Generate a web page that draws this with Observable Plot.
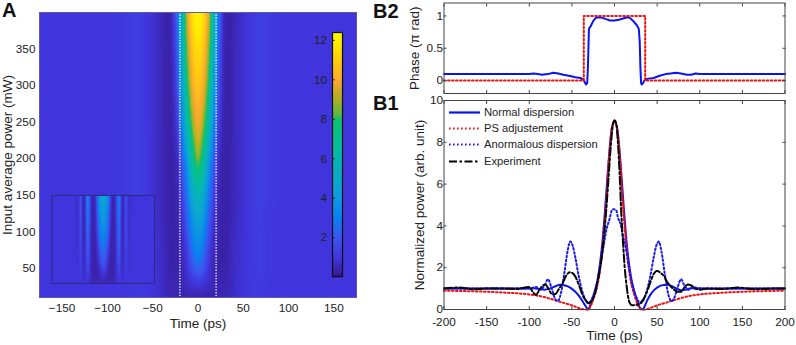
<!DOCTYPE html>
<html><head><meta charset="utf-8">
<script src="https://cdn.jsdelivr.net/npm/d3@7"></script>
<script src="https://cdn.jsdelivr.net/npm/@observablehq/plot@0.6"></script>
<style>
html,body{margin:0;padding:0;background:#fff}
#page{position:relative;width:796px;height:345px;overflow:hidden;font-family:"Liberation Sans",Arial,sans-serif;color:#222}
#page svg.plot{position:absolute;left:0;top:0}
.letter{position:absolute;font-weight:bold;font-size:20px;line-height:20px;color:#111}
.leg{position:absolute;left:449px;font-size:11.2px;line-height:12px;height:12px;white-space:nowrap;color:#222}
.leg svg{position:absolute;left:0;top:5px}
.leg span{position:absolute;left:35px;top:0}
</style></head><body><div id="page"></div>
<script>
// ---- Panel A heat map (mirrored half profile)
const heatHalfTimes=[0,4,8,11,13,15,17,20,23,27,31,36,42,50,60,68,80,100,130,175];
const heatPowers=[10,30,50,75,100,150,180,190,200,225,250,275,300,350,400];
const heatRows=[
[.35,.35,.35,.35,.35,.38,.4,.45,.5,.5,.5,.6,.8,.95,1.1,1.1,1,1,1,1],
[1.1,1.05,.95,.8,.7,.6,.55,.5,.45,.4,.4,.5,.8,.95,1.1,1.15,1,1,1,1],
[2.3,2.1,1.6,1.1,.85,.65,.5,.4,.35,.3,.35,.55,.75,.95,1.15,1.2,1.05,1,1,1],
[3.4,3.1,2.2,1.5,1.1,.8,.6,.45,.35,.3,.3,.5,.75,.9,1.15,1.2,1.05,1,1,1],
[4.1,3.8,2.9,2.1,1.6,1.1,.8,.55,.4,.3,.3,.45,.7,.9,1.15,1.25,1.05,1,1,1],
[5.8,5.3,4.3,3.2,2.5,1.9,1.4,.85,.5,.3,.3,.4,.6,.85,1.15,1.3,1.1,1,1,1],
[7.6,6.9,5.3,4.0,3.2,2.5,1.9,1.1,.6,.3,.3,.4,.6,.85,1.15,1.3,1.1,1,1,1],
[8.15,7.3,5.6,4.3,3.4,2.7,2.0,1.2,.6,.3,.3,.4,.6,.85,1.15,1.3,1.1,1,1,1],
[8.7,7.8,6.1,4.7,3.8,3.0,2.3,1.4,.7,.3,.3,.4,.6,.85,1.15,1.3,1.1,1,1,1],
[9.5,8.6,7.2,5.8,4.8,3.9,3.0,1.8,.9,.4,.3,.38,.6,.85,1.15,1.3,1.1,1,1,1],
[10,9.5,8.0,6.7,5.7,4.7,3.7,2.3,1.2,.5,.3,.35,.6,.85,1.1,1.3,1.1,1,1,1],
[10.4,10,8.8,7.3,6.3,5.2,4.1,2.7,1.4,.55,.3,.35,.6,.85,1.1,1.3,1.1,1,1,1],
[10.8,10.5,9.4,8.1,7,5.8,4.6,3.1,1.7,.6,.3,.35,.6,.85,1.1,1.3,1.1,1,1,1],
[11.6,11.3,10.3,9.1,8.15,6.8,5.4,3.8,2.1,.8,.3,.35,.6,.85,1.1,1.3,1.1,1,1,1],
[12.3,12,11.1,10,8.9,7.2,5.9,4.3,2.6,1,.3,.3,.55,.85,1.1,1.3,1.1,1,1,1]
];
// ---- Inset heat map
const insetHalfTimes=[0,8,14,20,24,28,32,36,42,47,53,59,64,68,73,78,83,90,100,175];
const insetPowers=[10,40,90,150,220,300,400];
const insetRows=[
[.5,.5,.5,.5,.5,.5,.5,.5,.7,.8,.9,.95,.95,1,1,1,1,1,1,1],
[.8,.7,.5,.4,.35,.35,.35,.4,.6,.9,1.3,1,.8,.85,1,1.1,1,1,1,1],
[1.8,1.4,.8,.5,.35,.3,.3,.4,.6,1,1.8,1.1,.7,.7,1,1.3,1,.9,1,1],
[2.6,2.2,1.5,.8,.5,.3,.3,.4,.6,1.2,2.3,1.2,.6,.6,1,1.5,1,.85,1,1],
[3.3,3,2.3,1.3,.7,.4,.3,.4,.6,1.4,2.7,1.3,.5,.5,1,1.7,.9,.8,1,1],
[4.1,3.7,3,2,1,.5,.3,.4,.7,1.6,3.2,1.5,.5,.5,1,1.9,.9,.8,1,1],
[5,4.6,3.9,2.8,1.5,.6,.3,.45,.8,1.9,3.8,1.8,.5,.4,1,2.1,.9,.7,1,1]
];
// ---- Colour map
const cmapStops=[0,0.3,1,2,3,4,5,6,7,8.05,8.15,9,10,11,12,12.4];
const cmapColors=["#38168f","#3a22a8","#4035dc","#3a58f0","#0a80f0","#0e98e0","#0aabc8","#05b8b0","#05c090","#10c070","#50b848","#b0b420","#fca830","#ffcc10","#fff000","#fff800"];
// ---- Panel B2 phase
const phaseNormalT=[-200,-150,-110,-100,-95,-90,-85,-78,-72,-66,-60,-52,-46,-40,-37,-35,-33.5,-32,-31.2,-30.6,-30,-28,-25,-22,-18,-14,-10,-5,0,5,10,15,18,22,26,28.5,29.6,30.4,31.2,32,33.5,35,37,40,46,52,60,66,72,78,85,90,95,100,110,150,200];
const phaseNormalV=[.1,.1,.1,.1,.11,.1,.09,.1,.12,.11,.09,.07,.05,.04,.02,-.02,-.06,-.04,.2,.5,.8,.84,.92,.97,.98,.97,.95,.93,.93,.94,.96,.98,.97,.92,.86,.8,.6,.2,-.04,-.06,-.04,.0,.02,.03,.04,.07,.1,.11,.12,.11,.09,.09,.11,.1,.1,.1,.1];
const phaseIdealT=[-200,-36,-36,36,36,200];
const phaseIdealV=[0,0,1,1,0,0];
// ---- Panel B1 power
const normalT=[-200,-150,-110,-95,-88,-82,-76,-70,-64,-58,-52,-46,-41,-36,-33,-31,-29,-26,-23,-20,-17,-14,-11,-8,-5,-3,0,3,5,8,11,14,17,20,23,26,29,31,33,35,38,42,47,53,58,63,68,73,78,84,90,100,120,150,200];
const normalP=[1,1,1,1.02,.98,.95,1,1.1,1.18,1.15,1.05,.85,.62,.3,.1,0,.15,.5,.9,1.4,2.2,3.3,4.8,6.5,8,8.7,9,8.7,8,6.5,4.8,3.3,2.2,1.4,.9,.5,.15,.03,0,.12,.4,.7,.95,1.12,1.17,1.18,1.1,1,.92,.95,1.02,1,1,1,1];
const adjustT=[-200,-175,-150,-125,-100,-85,-70,-60,-50,-42,-37,-33,-30,-27,-24,-21,-18,-15,-12,-9,-6,-3,0,3,6,9,12,15,18,21,24,27,30,33,37,42,50,60,70,85,100,125,150,175,200];
const adjustP=[.9,.88,.85,.8,.72,.62,.45,.32,.2,.07,.01,0,.02,.25,.6,1,1.6,2.6,3.9,5.6,7.5,8.7,9,8.7,7.5,5.6,3.9,2.6,1.6,1,.6,.25,.02,0,.01,.07,.2,.32,.45,.62,.72,.8,.85,.88,.9];
const anomalousT=[-200,-110,-98,-92,-87,-82,-78,-74,-70,-67,-63,-59,-55,-52,-49,-46,-42,-38,-34,-31,-28,-25,-21,-17,-13,-9,-6,-3,-1,2,4,7,10,13,17,21,25,28,31,34,38,42,46,49,52,55,59,63,67,70,74,78,82,87,92,98,110,200];
const anomalousP=[1,1,1.02,1.08,.95,1.15,1.45,1.05,.55,.4,.75,1.7,2.8,3.25,3.05,2.5,1.6,.9,.45,.3,.4,.65,1.2,2,3,3.9,4.3,4.75,4.8,4.75,4.4,4.1,3.5,3,2,1.2,.65,.4,.3,.45,.9,1.6,2.5,3.05,3.25,2.8,1.7,.75,.4,.55,1.05,1.45,1.15,.95,1.08,1.02,1,1];
const expT=[-200,-182,-165,-150,-130,-115,-105,-100,-96,-92,-88,-84,-81,-77,-73,-69,-65,-61,-57,-52,-47,-42,-38,-34,-30,-26,-22,-19,-16,-13,-10,-7,-4,-2,0,2,4,6,8,10,12,14,16,18,21,25,30,34,38,42,46,50,54,58,62,66,70,74,78,82,86,90,95,100,110,125,145,165,185,200];
const expP=[1,1.05,.97,1,1,.98,1.05,1.08,.85,.7,.95,1.15,1.2,.95,.72,.75,1,1.25,1.6,1.78,1.65,1.2,.75,.45,.3,.45,.9,1.5,2.2,3.2,4.6,6.3,8,8.8,9.05,8.9,8,6.5,4.6,3.2,2,1.2,.6,.3,.2,.22,.3,.5,.85,1.3,1.7,1.85,1.75,1.6,1.3,1.1,.95,.85,.85,1.05,1.2,1.15,1,.95,1,.98,1.05,.97,1,1];
// ---- Ticks and labels
const aTimeTicks=[-150,-100,-50,0,50,100,150];
const aPowerTicks=[50,100,150,200,250,300,350];
const barTicks=[2,4,6,8,10,12];
const bTimeTicks=[-200,-150,-100,-50,0,50,100,150,200];
const phaseTicks=[0,.5,1];
const powerTicks=[0,2,4,6,8,10];
const barLevels=d3.range(0.03,12.4,0.05);
const dotted="1.6 2.4";
const legendItems=[
 {name:"Normal dispersion",stroke:"#0a14f0",dash:null,w:2.2},
 {name:"PS adjustement",stroke:"#f01010",dash:dotted,w:2},
 {name:"Anormalous dispersion",stroke:"#1a1af0",dash:dotted,w:2},
 {name:"Experiment",stroke:"#000",dash:"8 2.5 2.5 2.5",w:2}
];
const legendTops=[105.5,122,138,154.5];

const page=document.getElementById("page");
const tickFont=11.8, titleFont=13.5;
const fontStyle={background:"transparent",fontFamily:"'Liberation Sans',Arial,sans-serif",fontSize:"12px",color:"#222"};
function table(halfTimes,powers,rows){
  const out=[];
  powers.forEach((p,i)=>{halfTimes.forEach((t,j)=>{
    out.push({t,p,v:rows[i][j]});
    if(t>0) out.push({t:-t,p,v:rows[i][j]});
  });});
  return out;
}
const colorScale={type:"linear",domain:cmapStops,range:cmapColors,clamp:true};
function add(opts){
  const svg=Plot.plot({width:796,height:345,style:fontStyle,...opts});
  svg.classList.add("plot");
  page.appendChild(svg);
}
const blank=()=>"";
// Panel A
add({marginLeft:39,marginRight:440,marginTop:12,marginBottom:48,
  x:{domain:[-175,175]},y:{domain:[10,400]},color:colorScale,
  marks:[
    Plot.raster(table(heatHalfTimes,heatPowers,heatRows),{x:"t",y:"p",fill:"v",interpolate:"barycentric",pixelSize:1}),
    Plot.ruleX([-20,20],{stroke:"#fff",strokeWidth:1.3,strokeDasharray:"1.3 1.5"}),
    Plot.frame({stroke:"#5a5ab0"}),
    Plot.axisX(aTimeTicks,{anchor:"bottom",tickSize:0,tickPadding:6,label:null,fontSize:tickFont}),
    Plot.axisX([0],{anchor:"bottom",tickSize:0,tickFormat:blank,label:"Time (ps)",labelAnchor:"center",labelArrow:"none",labelOffset:30,fontSize:titleFont}),
    Plot.axisY(aPowerTicks,{anchor:"left",tickSize:0,tickPadding:4,label:null,fontSize:tickFont}),
    Plot.axisY([100],{anchor:"left",tickSize:0,tickFormat:blank,label:"Input average power (mW)",labelAnchor:"center",labelArrow:"none",labelOffset:37,fontSize:titleFont})
  ]});
// Inset
add({marginLeft:51.5,marginRight:642,marginTop:195,marginBottom:62,
  x:{domain:[-175,175],axis:null},y:{domain:[10,400],axis:null},color:colorScale,
  marks:[
    Plot.raster(table(insetHalfTimes,insetPowers,insetRows),{x:"t",y:"p",fill:"v",interpolate:"barycentric",pixelSize:1}),
    Plot.frame({stroke:"#2a2a80",strokeWidth:1})
  ]});
// Colour bar
add({marginLeft:332,marginRight:454,marginTop:32,marginBottom:69,
  x:{axis:null},y:{domain:[0.03,12.4]},color:colorScale,
  marks:[
    Plot.ruleY(barLevels,{y:d=>d,stroke:d=>d,strokeWidth:1.6}),
    Plot.frame({stroke:"#111",strokeWidth:1.2}),
    Plot.axisY(barTicks,{anchor:"left",tickSize:-2.5,tickPadding:8,label:null,fontSize:tickFont,stroke:"#111"})
  ]});
function bAxes(opts){
  const marks=[
    Plot.frame({stroke:"#444"}),
    Plot.axisX(bTimeTicks,{anchor:"top",tickSize:-3,tickFormat:blank,label:null,stroke:"#444"}),
    Plot.axisY(opts.yTicks,{anchor:"right",tickSize:-3,tickFormat:blank,label:null,stroke:"#444"}),
    Plot.axisX(bTimeTicks,{anchor:"bottom",tickSize:-3,tickPadding:11,tickFormat:opts.xFormat,label:null,fontSize:tickFont,stroke:"#444"}),
    Plot.axisY(opts.yTicks,{anchor:"left",tickSize:-3,tickPadding:4,tickFormat:d=>String(d),label:null,fontSize:tickFont,stroke:"#444"}),
    Plot.axisY([opts.yTicks[0]],{anchor:"left",tickSize:0,tickFormat:blank,label:opts.yLabel,labelAnchor:"center",labelArrow:"none",labelOffset:opts.yOffset,fontSize:titleFont})
  ];
  if(opts.xLabel) marks.push(Plot.axisX([0],{anchor:"bottom",tickSize:0,tickFormat:blank,label:opts.xLabel,labelAnchor:"center",labelArrow:"none",labelOffset:30,fontSize:titleFont}));
  return marks;
}
// Panel B2
add({marginLeft:443.5,marginRight:11.5,marginTop:2.5,marginBottom:252,
  x:{domain:[-200,200]},y:{domain:[-.2,1.2]},
  marks:[
    Plot.line(phaseNormalV,{x:phaseNormalT,y:phaseNormalV,stroke:"#0a14f0",strokeWidth:2}),
    Plot.line(phaseIdealV,{x:phaseIdealT,y:phaseIdealV,stroke:"#f01010",strokeWidth:2,strokeDasharray:dotted}),
    ...bAxes({yTicks:phaseTicks,xFormat:blank,xLabel:null,yLabel:"Phase (π rad)",yOffset:35})
  ]});
// Panel B1
add({marginLeft:443.5,marginRight:11.5,marginTop:100,marginBottom:36,
  x:{domain:[-200,200]},y:{domain:[0,10]},
  marks:[
    Plot.line(normalP,{x:normalT,y:normalP,stroke:"#0a14f0",strokeWidth:2,curve:"monotone-x"}),
    Plot.line(adjustP,{x:adjustT,y:adjustP,stroke:"#f01010",strokeWidth:2,strokeDasharray:dotted,curve:"monotone-x"}),
    Plot.line(anomalousP,{x:anomalousT,y:anomalousP,stroke:"#1a1af0",strokeWidth:2,strokeDasharray:dotted,curve:"monotone-x"}),
    Plot.line(expP,{x:expT,y:expP,stroke:"#000",strokeWidth:2,strokeDasharray:"8 2.5 2.5 2.5",curve:"monotone-x"}),
    ...bAxes({yTicks:powerTicks,xFormat:d=>String(d),xLabel:"Time (ps)",yLabel:"Normalized power (arb. unit)",yOffset:30})
  ]});
// Legend
legendItems.forEach((it,i)=>{
  const d=document.createElement("div");d.className="leg";d.style.top=legendTops[i]+"px";
  const dash=it.dash?`stroke-dasharray="${it.dash}"`:"";
  d.innerHTML=`<svg width="31" height="3"><line x1="0" x2="31" y1="1.5" y2="1.5" stroke="${it.stroke}" stroke-width="${it.w}" ${dash}/></svg><span>${it.name}</span>`;
  page.appendChild(d);
});
// Panel letters
[["A",2,0],["B2",373,1],["B1",373,93]].forEach(([s,x,y])=>{
  const d=document.createElement("div");d.className="letter";d.textContent=s;d.style.left=x+"px";d.style.top=y+"px";page.appendChild(d);
});
</script></body></html>
